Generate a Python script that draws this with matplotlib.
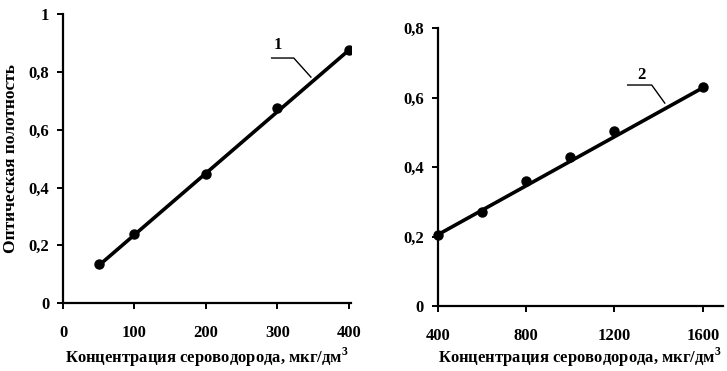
import matplotlib.pyplot as plt

# точки калибровки 1
conc1 = [50, 100, 200, 300, 400]
opt1 = [0.135, 0.24, 0.445, 0.675, 0.875]
line1_x = [50, 400]
line1_y = [0.13, 0.875]

# точки калибровки 2
conc2 = [400, 600, 800, 1000, 1200, 1600]
opt2 = [0.205, 0.27, 0.36, 0.43, 0.505, 0.63]
line2_x = [400, 1600]
line2_y = [0.205, 0.628]

xticks1 = [0, 100, 200, 300, 400]
yticks1 = [0, 0.2, 0.4, 0.6, 0.8, 1]
ytlab1 = ["0", "0,2", "0,4", "0,6", "0,8", "1"]
xticks2 = [400, 800, 1200, 1600]
yticks2 = [0, 0.2, 0.4, 0.6, 0.8]
ytlab2 = ["0", "0,2", "0,4", "0,6", "0,8"]

XLAB = "Концентрация сероводорода, мкг/дм$^3$"
YLAB = "Оптическая полотность"

plt.rcParams['font.family'] = ['Liberation Serif', 'DejaVu Serif']
plt.rcParams['font.weight'] = 'bold'
plt.rcParams['axes.labelweight'] = 'bold'
plt.rcParams['mathtext.fontset'] = 'custom'
plt.rcParams['mathtext.rm'] = 'Liberation Serif:bold'

fig = plt.figure(figsize=(7.27, 3.71), dpi=100)
ax1 = fig.add_axes([0.0867, 0.183, 0.396, 0.779])
ax2 = fig.add_axes([0.602, 0.175, 0.392, 0.7495])

for ax in (ax1, ax2):
    for s in ('top', 'right'):
        ax.spines[s].set_visible(False)
    for s in ('left', 'bottom'):
        ax.spines[s].set_linewidth(1.6)
    ax.tick_params(direction='out', length=4, width=1.4, labelsize=12)
    ax.tick_params(axis='y', pad=6)
    ax.tick_params(axis='x', pad=12)

ax1.plot(line1_x, line1_y, color='black', lw=2.6)
ax1.plot(conc1, opt1, 'o', color='black', ms=6.5)
ax1.set_xlim(0, 403)
ax1.set_ylim(0, 1)
ax1.set_xticks(xticks1)
ax1.set_yticks(yticks1)
ax1.set_yticklabels(ytlab1)
ax1.set_xlabel(XLAB, fontsize=12, labelpad=3)
ax1.set_ylabel(YLAB, fontsize=12.5, labelpad=7)
ax1.text(300, 0.865, "1", fontsize=12, ha='center', va='bottom')
ax1.plot([292, 323, 347], [0.848, 0.848, 0.782], color='black', lw=1)

ax2.plot(line2_x, line2_y, color='black', lw=2.6)
ax2.plot(conc2, opt2, 'o', color='black', ms=6.5, clip_on=False)
ax2.set_xlim(400, 1690)
ax2.set_ylim(0, 0.8)
ax2.set_xticks(xticks2)
ax2.set_yticks(yticks2)
ax2.set_yticklabels(ytlab2)
ax2.set_xlabel(XLAB, fontsize=12, labelpad=1)
ax2.text(1324, 0.642, "2", fontsize=12, ha='center', va='bottom')
ax2.plot([1260, 1369, 1428], [0.636, 0.636, 0.584], color='black', lw=1)

fig.savefig("out.png", dpi=100)
